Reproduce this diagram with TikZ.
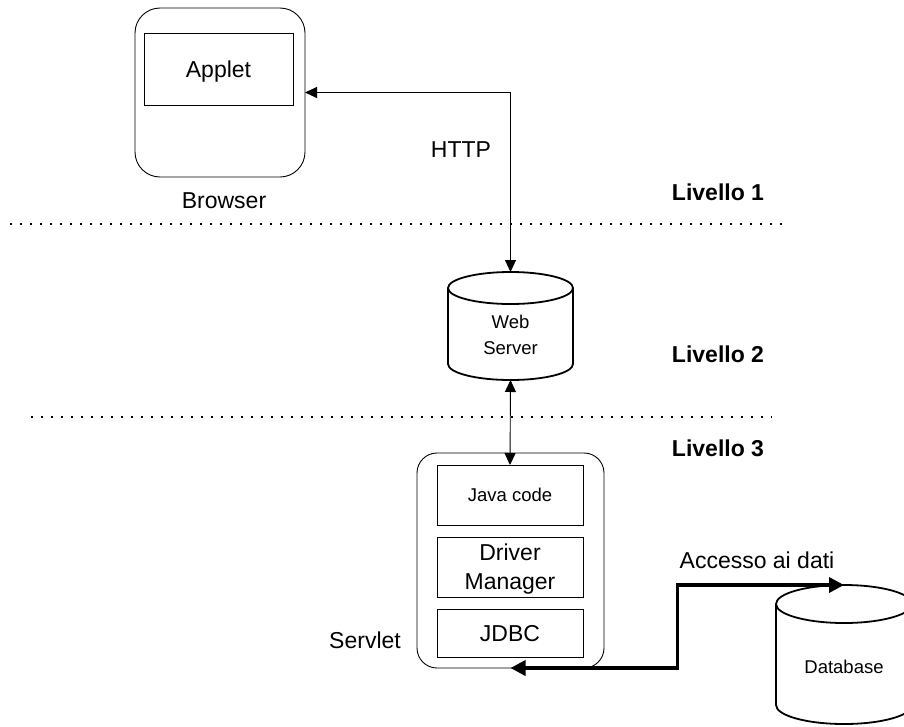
\documentclass[tikz,border=0pt]{standalone}
\usepackage{fontspec}
\setmainfont{Liberation Sans}
\usepackage{tikz}
\usetikzlibrary{arrows.meta, calc}

% cylinder outline round an (invisible) node: name, x radius, y radius
\newcommand{\drawcyl}[3]{%
    \draw[cylline] ($(#1.north)+(0,-#3)$) ellipse[x radius=#2, y radius=#3];
    \draw[cylline] ($(#1.north west)+(0,-#3)$) -- ($(#1.south west)+(0,#3)$)
        arc[start angle=180, end angle=360, x radius=#2, y radius=#3]
        -- ($(#1.north east)+(0,-#3)$);
}

\begin{document}
\begin{tikzpicture}[
    x=1pt, y=-1pt,
    every node/.style={inner sep=0pt, outer sep=0pt},
    txt/.style={font=\fontsize{23}{29}\selectfont, align=center},
    smalltxt/.style={font=\fontsize{18.5}{26}\selectfont, align=center},
    level/.style={font=\bfseries\fontsize{23}{28}\selectfont},
    container/.style={draw, line width=0.9pt, rounded corners=#1},
    layer/.style={draw, line width=0.9pt, minimum width=146pt, text depth=0pt, txt},
    cylbody/.style={inner sep=0pt},
    cylline/.style={line width=1.8pt},
    link/.style={{Triangle[length=12pt,width=11pt]}-{Triangle[length=12pt,width=11pt]}, line width=0.9pt},
    biglink/.style={{Triangle[length=15pt,width=15pt]}-{Triangle[length=15pt,width=15pt]}, line width=3.5pt, line join=miter},
    sep/.style={line width=1.6pt, dash pattern=on 1.6pt off 8.4pt}
]
    \useasboundingbox (0,0) rectangle (904,726);

    % Livello 1: browser
    \node[container=25pt, minimum width=170pt, minimum height=169pt] (browser) at (220,92.5) {};
    \node[layer, minimum width=149pt, minimum height=72pt] (applet) at (218.5,69) {Applet};
    \node[txt] (browserlbl) at (224,201) {Browser};
    \node[txt] (http) at (461,150) {HTTP};

    % Livello 2: web server
    \node[cylbody, minimum width=125pt, minimum height=108pt] (web) at (510.5,326) {};
    \drawcyl{web}{62.5pt}{16pt}
    \node[smalltxt] (webtxt) at (510.5,335) {Web\\Server};

    % Livello 3: servlet
    \node[container=20pt, minimum width=187pt, minimum height=215pt] (servlet) at (510.5,560.5) {};
    \node[layer, minimum height=60pt, font=\fontsize{18.5}{22}\selectfont] (java) at (510,495) {Java code};
    \node[layer, minimum height=60pt] (driver) at (510,567) {Driver\\Manager};
    \node[layer, minimum height=48pt] (jdbc) at (510,633) {JDBC};
    \node[txt] (servletlbl) at (365,640) {Servlet};

    % database
    \node[cylbody, minimum width=136pt, minimum height=139pt] (db) at (844,654.5) {};
    \drawcyl{db}{68pt}{19pt}
    \node[smalltxt] (dbtxt) at (844,667) {Database};
    \node[txt] (accesso) at (757,560) {Accesso ai dati};

    % level separators
    \draw[sep] (10,224) -- (782,224);
    \draw[sep] (31,417) -- (772,417);
    \node[level] (liv1) at (718,192.5) {Livello 1};
    \node[level] (liv2) at (718,354) {Livello 2};
    \node[level] (liv3) at (718,448) {Livello 3};

    % connections
    \draw[link] (web.north) |- (browser.east);
    \draw[link] (web.south) -- (java.north);
    \coordinate (bend) at ($(servlet.south)!0.5!(db.north)$);
    \draw[biglink] (servlet.south) -| (bend) |- (db.north);
\end{tikzpicture}
\end{document}
